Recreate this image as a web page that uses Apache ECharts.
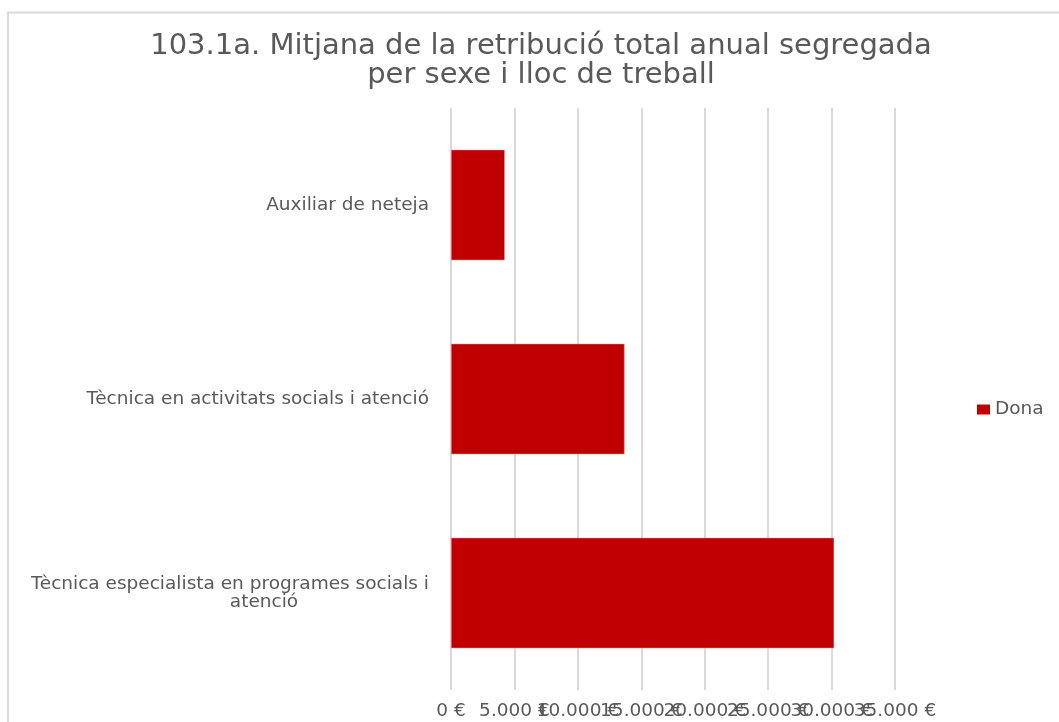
<!DOCTYPE html>
<html>
<head>
<meta charset="utf-8">
<script src="https://cdn.jsdelivr.net/npm/echarts@6/dist/echarts.min.js"></script>
<style>
html,body{margin:0;padding:0;background:#fff;}
#chart{width:1059px;height:722px;}
</style>
</head>
<body>
<div id="chart"></div>
<script>
const titleText = '103.1a. Mitjana de la retribució total anual segregada\nper sexe i lloc de treball';
const categories = [
  'Tècnica especialista en programes socials i atenció',
  'Tècnica en activitats socials i atenció',
  'Auxiliar de neteja'
];
const seriesName = 'Dona';
const donaValues = [30200, 13680, 4240];
const xTicks = [0, 5000, 10000, 15000, 20000, 25000, 30000, 35000];

function fmtEuro(v) {
  const s = String(Math.round(v)).replace(/\B(?=(\d{3})+(?!\d))/g, '.');
  return s + ' €';
}

const chart = echarts.init(document.getElementById('chart'), null, {renderer: 'canvas'});
const FONT = 'DejaVu Sans';
const GREY = '#595959';
const FS = 18.5;

function xAxisDef(parity, showGrid) {
  return {
    type: 'value',
    position: 'bottom',
    min: xTicks[0],
    max: xTicks[xTicks.length - 1],
    interval: xTicks[1] - xTicks[0],
    axisLine: {show: false},
    axisTick: {show: false},
    splitLine: {show: showGrid, lineStyle: {color: '#d9d9d9', width: 2}},
    axisLabel: {
      fontFamily: FONT,
      fontSize: FS,
      color: GREY,
      margin: 12,
      hideOverlap: false,
      showMinLabel: true,
      showMaxLabel: true,
      formatter: function (v) {
        const idx = xTicks.indexOf(v);
        return (idx % 2 === parity) ? fmtEuro(v) : '';
      }
    }
  };
}

chart.setOption({
  animation: false,
  backgroundColor: '#ffffff',
  graphic: [{
    type: 'rect',
    shape: {x: 8, y: 12.5, width: 1200, height: 800},
    style: {fill: 'none', stroke: '#d9d9d9', lineWidth: 2},
    silent: true
  }],
  title: {
    text: titleText,
    left: 536,
    top: 27,
    textAlign: 'center',
    textStyle: {
      fontFamily: FONT,
      fontSize: 29,
      fontWeight: 'normal',
      color: GREY,
      lineHeight: 29
    }
  },
  legend: {
    data: [seriesName],
    orient: 'vertical',
    left: 977,
    top: 400,
    padding: 0,
    itemWidth: 13,
    itemHeight: 10,
    itemGap: 6,
    itemStyle: {borderWidth: 0},
    textStyle: {fontFamily: FONT, fontSize: FS, color: GREY},
    icon: 'rect'
  },
  grid: {
    left: 451,
    right: 164,
    top: 108,
    bottom: 32,
    containLabel: false
  },
  xAxis: [xAxisDef(0, true), xAxisDef(1, false)],
  yAxis: {
    type: 'category',
    data: categories,
    axisLine: {show: false},
    axisTick: {show: false},
    axisLabel: {
      fontFamily: FONT,
      fontSize: FS,
      color: GREY,
      margin: 22,
      lineHeight: 18,
      formatter: function (v) {
        if (v === categories[0]) {
          return '{a|Tècnica especialista en programes socials i}\n{b|atenció}';
        }
        return v;
      },
      rich: {
        a: {fontFamily: FONT, fontSize: FS, color: GREY, lineHeight: 18},
        b: {fontFamily: FONT, fontSize: FS, color: GREY, lineHeight: 18, align: 'center', padding: [0, 0, 0, 68]}
      }
    }
  },
  series: [{
    name: seriesName,
    type: 'bar',
    xAxisIndex: 0,
    data: donaValues,
    barCategoryGap: '43%',
    itemStyle: {color: '#c00000', borderColor: '#e8a0a0', borderWidth: 0.5}
  }]
});
</script>
</body>
</html>
